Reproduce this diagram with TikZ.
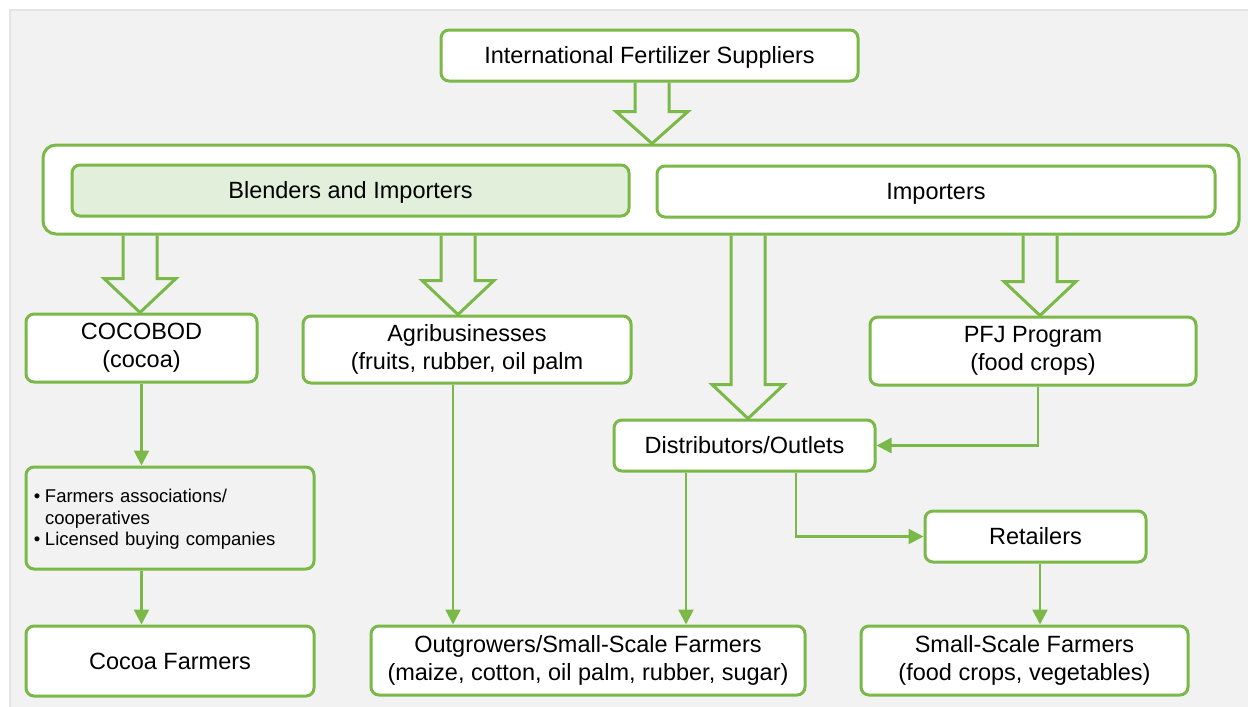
\documentclass[tikz,border=0pt]{standalone}
\usepackage{fontspec}
\setmainfont{Liberation Sans}
\usetikzlibrary{arrows.meta,calc}
\definecolor{grn}{RGB}{122,184,72}
\definecolor{panel}{RGB}{242,242,242}
\definecolor{panelline}{RGB}{228,228,228}
\definecolor{lightgrn}{RGB}{226,239,218}
\newcommand{\fatarrow}[4]{%
  \draw[fat] let \p1=(#1), \p2=(#2) in
    (#3pt-17pt,\y1) -- (#3pt-17pt,\y2+#4pt) -- (#3pt-36pt,\y2+#4pt) -- (#3pt,\y2)
    -- (#3pt+36pt,\y2+#4pt) -- (#3pt+17pt,\y2+#4pt) -- (#3pt+17pt,\y1);}
\newcommand{\topstrut}{\rule{0pt}{0.905em}}
\newcommand{\botstrut}{\rule[-0.212em]{0pt}{0pt}}
\begin{document}
\begin{tikzpicture}[x=1pt,y=-1pt,
  box/.style={draw=grn,line width=3pt,rounded corners=8pt,fill=white,inner sep=0pt,
    align=center,font=\fontsize{23.5}{28}\selectfont,
    execute at begin node=\topstrut, execute at end node=\botstrut},
  link/.style={draw=grn,line width=2.5pt,-{Triangle[length=15pt,width=15pt]}},
  fat/.style={draw=grn,line width=3pt,line join=miter}]
\useasboundingbox (0,0) rectangle (1248,707);
\fill[white] (0,0) rectangle (1248,707);
\fill[panel] (10,10) rectangle (1248,707);
\draw[panelline,line width=2pt] (10,707) -- (10,10) -- (1248,10);

% nodes
\node[box,minimum width=417pt,minimum height=51pt] (ifs) at (649.5,55.5) {International Fertilizer Suppliers};
\node[box,rounded corners=13pt,minimum width=1196pt,minimum height=89pt,
  execute at begin node={},execute at end node={}] (cont) at (641,189.5) {};
\node[box,fill=lightgrn,minimum width=557pt,minimum height=51pt] (blend) at (350.5,190.5) {Blenders and Importers};
\node[box,minimum width=558pt,minimum height=51pt] (imp) at (936,191.5) {Importers};
\node[box,minimum width=231pt,minimum height=68pt] (cocobod) at (141.5,348) {COCOBOD\\(cocoa)};
\node[box,minimum width=328pt,minimum height=67pt] (agri) at (467,349.5) {Agribusinesses\\(fruits, rubber, oil palm};
\node[box,minimum width=326pt,minimum height=68pt] (pfj) at (1033,351) {PFJ Program\\(food crops)};
\node[box,minimum width=261pt,minimum height=51pt] (dist) at (744.5,445.5) {Distributors/Outlets};
\node[box,fill=panel,minimum width=288pt,minimum height=102pt,text width=272pt,align=left,
  font=\fontsize{18.5}{21.5}\selectfont] (assoc) at (170,518)
  {\makebox[11pt][l]{\textbullet}Farmers associations/\\\hspace*{11pt}cooperatives\\\makebox[11pt][l]{\textbullet}Licensed buying companies};
\node[box,minimum width=221pt,minimum height=51pt] (ret) at (1035.5,536.5) {Retailers};
\node[box,minimum width=288pt,minimum height=70pt] (cocoa) at (170,661) {Cocoa Farmers};
\node[box,minimum width=434pt,minimum height=69pt] (outg) at (588,660.5) {Outgrowers/Small-Scale Farmers\\(maize, cotton, oil palm, rubber, sugar)};
\node[box,minimum width=327pt,minimum height=69pt] (ssf) at (1024.5,660.5) {Small-Scale Farmers\\(food crops, vegetables)};

% block arrows
\fatarrow{ifs.south}{cont.north}{652}{32}
\fatarrow{cont.south}{cocobod.north}{140}{34}
\fatarrow{cont.south}{agri.north}{458}{34}
\fatarrow{cont.south}{dist.north}{748}{34}
\fatarrow{cont.south}{pfj.north}{1040}{34}

% thin connectors
\draw[link] (cocobod.south) -- (cocobod.south |- assoc.north);
\draw[link] (assoc.south -| cocobod.south) -- (cocoa.north -| cocobod.south);
\coordinate (agrib) at ($(agri.south)+(-14,0)$);
\draw[link] (agrib) -- (agrib |- outg.north);
\coordinate (distl) at ($(dist.south)+(-58.5,0)$);
\draw[link] (distl) -- (distl |- outg.north);
\coordinate (distr) at ($(dist.south)+(51.5,0)$);
\draw[link] (distr) |- (ret.west);
\coordinate (pfjb) at ($(pfj.south)+(5,0)$);
\draw[link] (pfjb) |- (dist.east);
\coordinate (retb) at ($(ret.south)+(4.5,0)$);
\draw[link] (retb) -- (retb |- ssf.north);
\end{tikzpicture}
\end{document}
